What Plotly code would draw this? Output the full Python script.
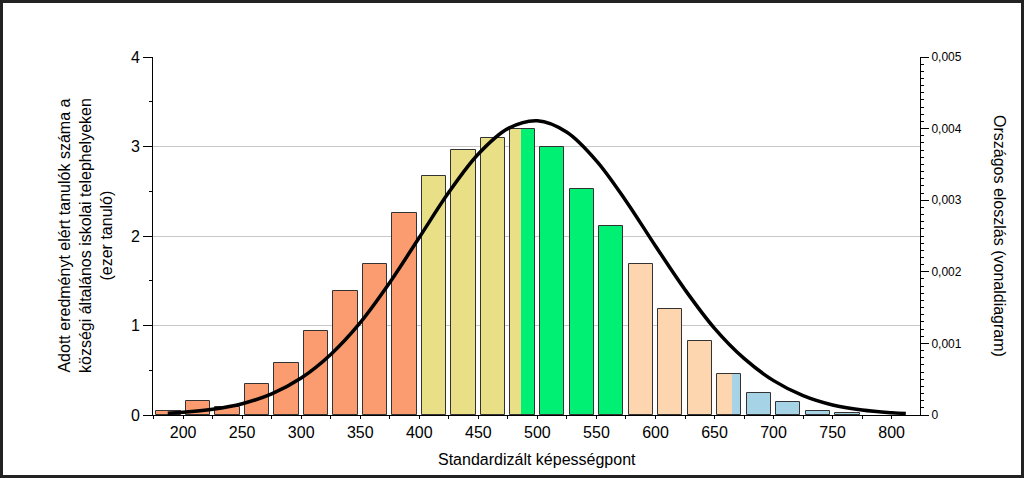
import plotly.graph_objects as go

# score bins (start of each 25-point bin) and number of students (thousands)
bin_starts = [175, 200, 225, 250, 275, 300, 325, 350, 375, 400, 425, 450,
              475, 500, 525, 550, 575, 600, 625, 650, 675, 700, 725, 750]
counts = [0.04, 0.16, 0.09, 0.35, 0.58, 0.94, 1.38, 1.69, 2.26, 2.67, 2.96, 3.10,
          3.20, 2.99, 2.53, 2.11, 1.69, 1.18, 0.83, 0.46, 0.25, 0.14, 0.05, 0.025]

# colour bands along the score axis
band_edges = [175, 400, 486.5, 575, 664.5, 800]
band_colors = ["#FA9B70", "#E9DF87", "#00F074", "#FDD6AF", "#A7D3E6"]

# national distribution (line)
curve_x = [187, 200, 225, 250, 275, 300, 325, 350, 375, 400, 425, 450, 475, 500,
           525, 550, 575, 600, 625, 650, 675, 700, 725, 750, 775, 800, 812]
curve_y = [0.000025, 0.000037, 0.00008, 0.000158, 0.000296, 0.000517, 0.000846,
           0.00129, 0.00185, 0.00248, 0.00311, 0.003645, 0.0040, 0.00411, 0.00395,
           0.00355, 0.00299, 0.00236, 0.00175, 0.00121, 0.00079, 0.00048, 0.00027,
           0.00014, 0.00007, 0.000032, 0.000021]

bin_w = 25
gap = 2.2
font = "Liberation Sans, Arial, sans-serif"

fig = go.Figure()

# coloured fills, split where a band boundary falls inside a bar
for c in range(len(band_colors)):
    xs, ws, hs = [], [], []
    for b, h in zip(bin_starts, counts):
        lo = max(b + gap, band_edges[c])
        hi = min(b + bin_w - gap, band_edges[c + 1])
        if hi > lo:
            xs.append((lo + hi) / 2)
            ws.append(hi - lo)
            hs.append(h)
    fig.add_trace(go.Bar(x=xs, y=hs, width=ws, marker_color=band_colors[c],
                         marker_line_width=0, showlegend=False, hoverinfo="skip"))

# outlines of the whole bars
fig.add_trace(go.Bar(x=[b + bin_w / 2 for b in bin_starts], y=counts,
                     width=bin_w - 2 * gap, marker_color="rgba(0,0,0,0)",
                     marker_line=dict(color="#333333", width=1), showlegend=False))

fig.add_trace(go.Scatter(x=curve_x, y=curve_y, yaxis="y2", mode="lines",
                         line=dict(color="black", width=3.5, shape="spline"),
                         showlegend=False))

L, R, T, B = 153, 104, 57, 63
W, H = 1024, 478
pw, ph = W - L - R, H - T - B

fig.update_layout(
    width=W, height=H,
    margin=dict(l=L, r=R, t=T, b=B),
    plot_bgcolor="white", paper_bgcolor="white",
    barmode="overlay", bargap=0,
    separators=", ",
    font=dict(family=font, color="black"),
    xaxis=dict(range=[174.5, 824], tickvals=list(range(200, 801, 50)),
               ticks="outside", ticklen=3, tickcolor="black",
               minor=dict(dtick=25, tick0=0, ticks="outside", ticklen=3, tickcolor="black"),
               showline=True, linecolor="black", linewidth=1, showgrid=False,
               zeroline=False, tickfont=dict(size=16), title=None),
    yaxis=dict(range=[0, 4], dtick=1, ticks="outside", ticklen=9, tickcolor="black",
               minor=dict(dtick=0.5, ticks="outside", ticklen=3, tickcolor="black"),
               showline=True, linecolor="black", linewidth=1,
               showgrid=True, gridcolor="#c8c8c8", gridwidth=1, zeroline=False,
               tickfont=dict(size=16)),
    yaxis2=dict(range=[0, 0.005], dtick=0.001, overlaying="y", side="right",
                ticks="outside", ticklen=8, tickcolor="black",
                minor=dict(dtick=0.0001, ticks="outside", ticklen=3, tickcolor="black"),
                showline=True, linecolor="black", linewidth=1, showgrid=False,
                zeroline=False, tickfont=dict(size=12)),
)

fig.add_annotation(xref="paper", yref="paper", x=(85 - L) / pw, y=0.5,
                   xanchor="center", yanchor="middle",
                   text="Adott eredményt elért tanulók száma a<br>községi általános iskolai telephelyeken<br>(ezer tanuló)",
                   textangle=-90, showarrow=False, font=dict(size=16))
fig.add_annotation(xref="paper", yref="paper", x=(1000 - L) / pw, y=0.5,
                   xanchor="center", yanchor="middle",
                   text="Országos eloszlás (vonaldiagram)",
                   textangle=90, showarrow=False, font=dict(size=16))
fig.add_annotation(xref="paper", yref="paper", x=0.5, y=-(459 - T - ph) / ph,
                   xanchor="center", yanchor="middle",
                   text="Standardizált képességpont", showarrow=False,
                   font=dict(size=16))

# frame around the whole picture
fig.add_shape(type="rect", xref="paper", yref="paper",
              x0=-(L - 1.5) / pw, x1=1 + (R - 1.5) / pw,
              y0=-(B - 1.5) / ph, y1=1 + (T - 1.5) / ph,
              line=dict(color="#222222", width=3))

fig.write_html("out.html", config={"displayModeBar": False},
               post_script="document.body.style.margin='0';")
